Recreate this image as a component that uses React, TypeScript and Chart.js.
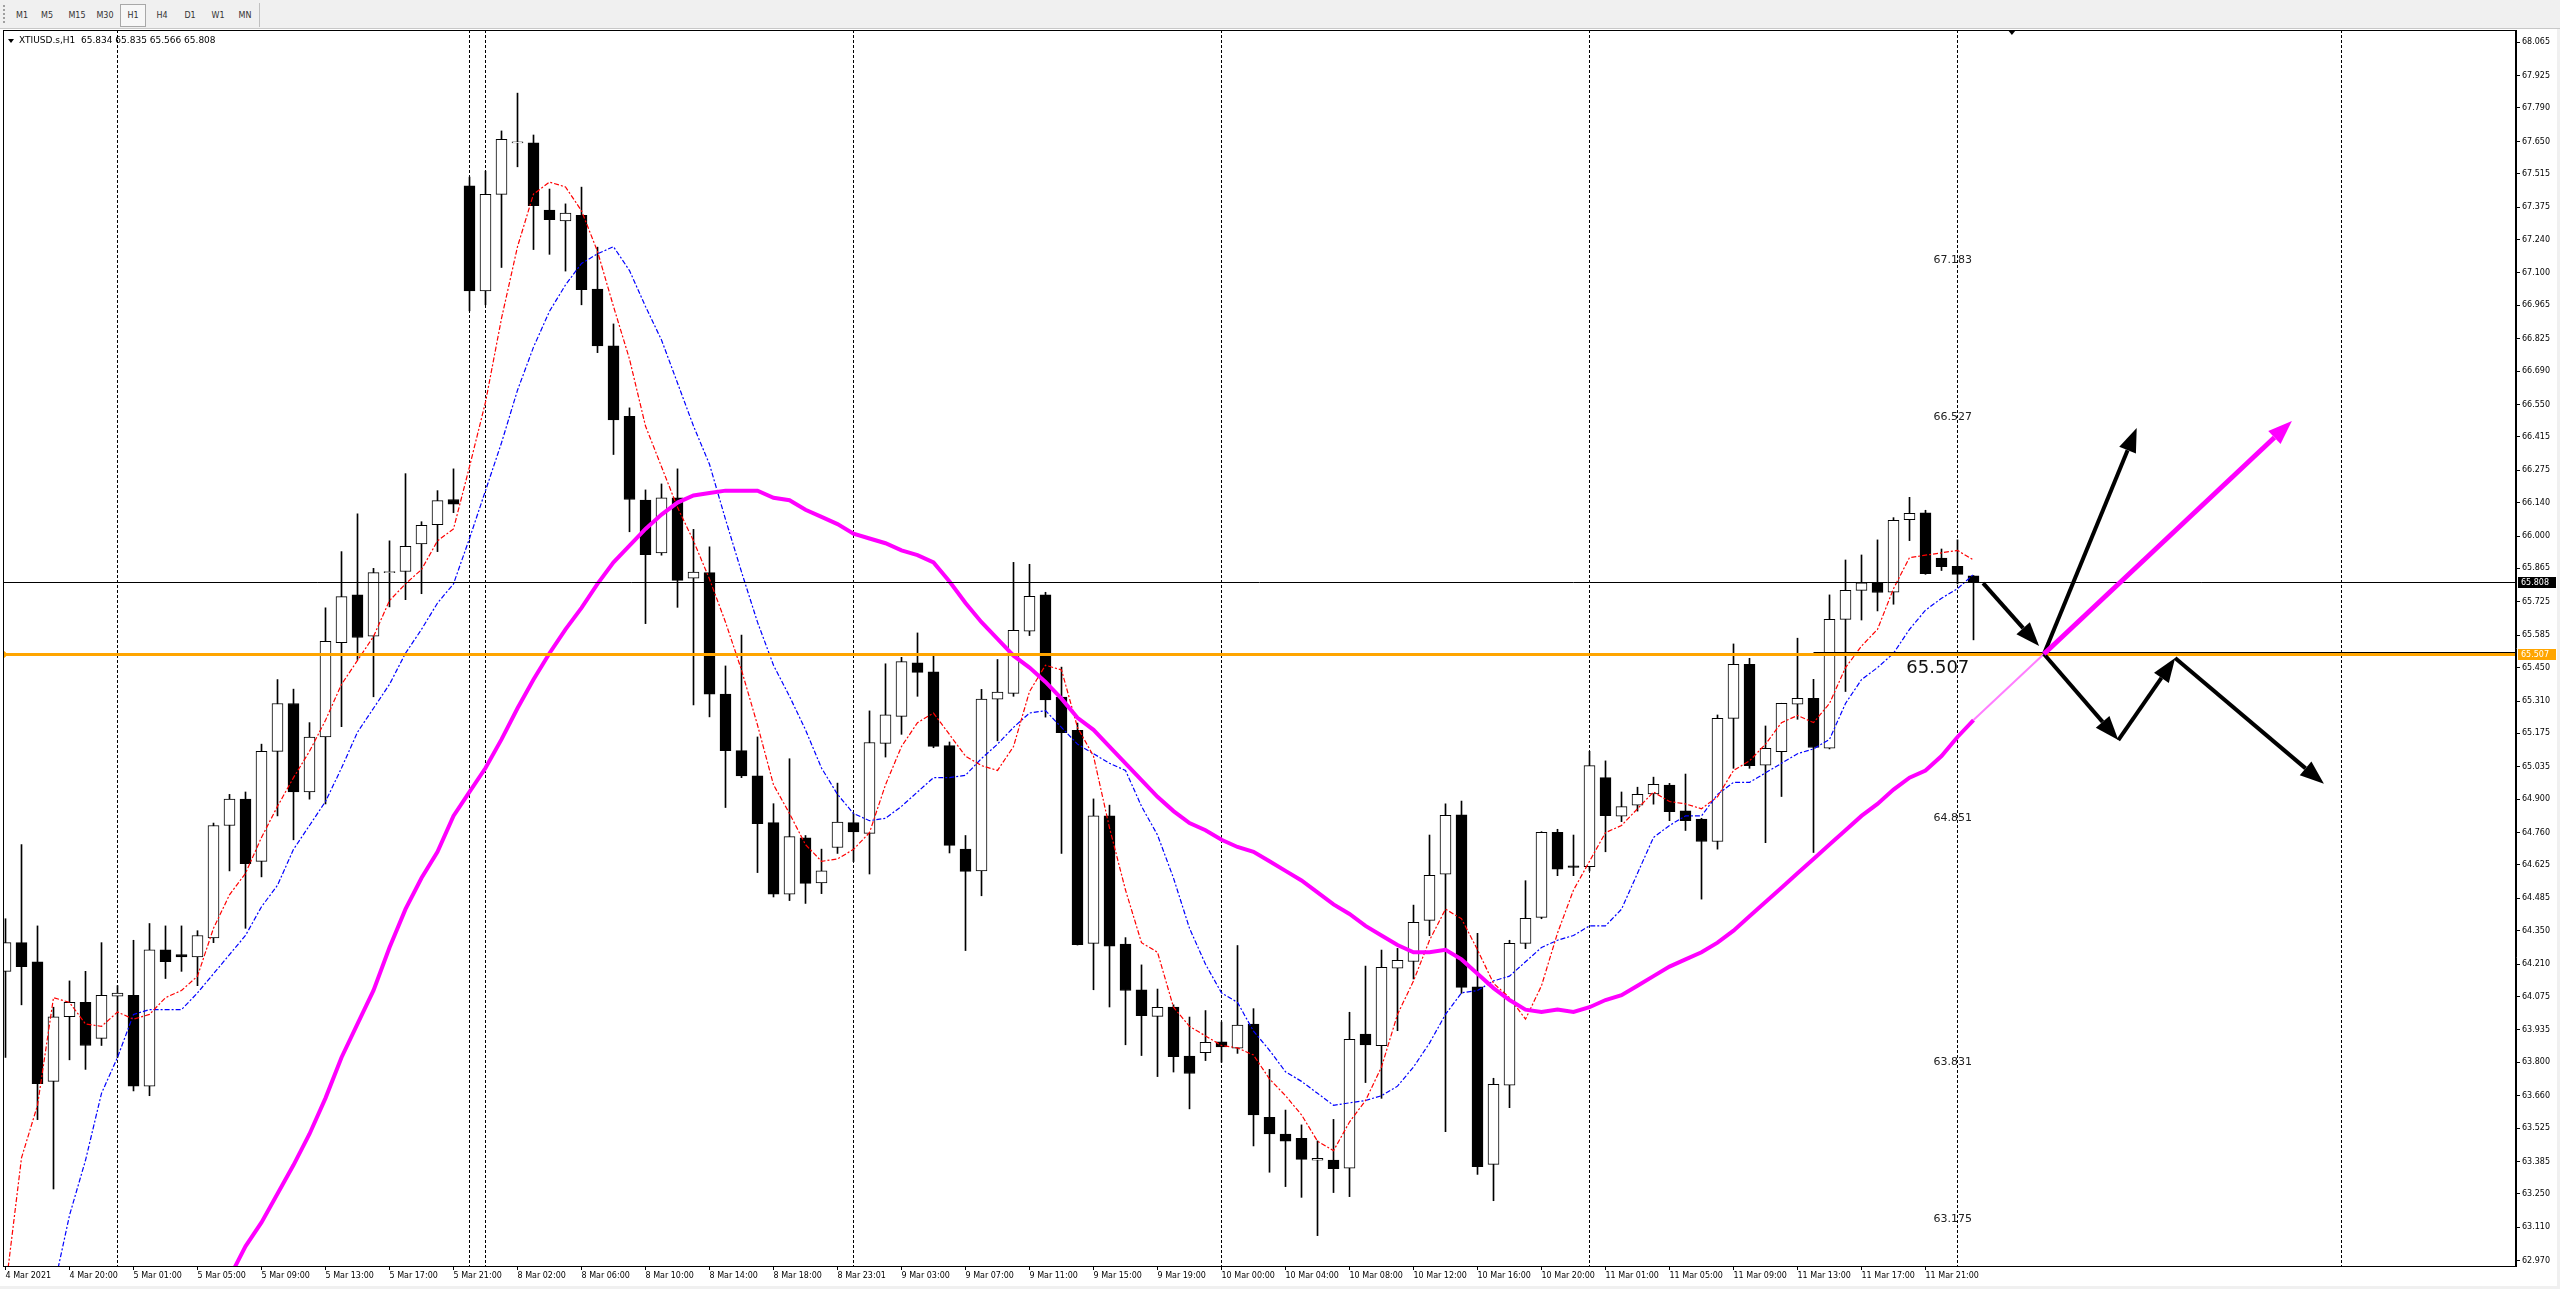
import React, { useEffect, useRef } from "react";
import { Chart, registerables } from "chart.js";

Chart.register(...registerables);

// ---- Candles (hourly, XTIUSD.s H1) ----
const opens = [
  64.18, 64.30, 64.22, 63.72, 63.99, 64.05, 63.90, 64.076, 64.08, 63.70,
  64.27, 64.25, 64.24, 64.32, 64.79, 64.90, 64.64, 65.10, 65.30, 64.93,
  65.16, 65.554, 65.754, 65.581, 65.847, 65.852, 65.967, 66.048, 66.153, 67.464,
  67.025, 67.429, 67.644, 67.644, 67.363, 67.318, 67.341, 67.033, 66.795, 66.501,
  66.150, 65.930, 66.160, 65.824, 65.847, 65.339, 65.103, 64.997, 64.802, 64.503,
  64.738, 64.550, 64.698, 64.802, 64.757, 65.133, 65.246, 65.470, 65.432, 65.124,
  64.691, 64.600, 65.318, 65.342, 65.602, 65.754, 65.327, 65.188, 64.297, 64.830,
  64.294, 64.103, 63.992, 64.031, 63.826, 63.840, 63.885, 63.859, 63.960, 63.57,
  63.50, 63.482, 63.390, 63.391, 63.357, 63.918, 63.869, 64.193, 64.221, 64.393,
  64.586, 64.834, 64.115, 63.373, 63.704, 64.297, 64.406, 64.761, 64.621, 64.618,
  64.99, 64.829, 64.875, 64.922, 64.959, 64.851, 64.817, 64.723, 65.238, 65.464,
  65.042, 65.099, 65.297, 65.322, 65.113, 65.652, 65.773, 65.805, 65.765, 66.069,
  66.097, 65.908, 65.874, 65.834,
];
const highs = [
  64.40, 64.71, 64.37, 64.03, 64.14, 64.18, 64.30, 64.12, 64.31, 64.38,
  64.37, 64.37, 64.35, 64.80, 64.92, 64.93, 65.13, 65.40, 65.36, 65.22,
  65.70, 65.935, 66.093, 65.865, 65.980, 66.261, 66.060, 66.190, 66.281, 67.501,
  67.526, 67.694, 67.852, 67.677, 67.451, 67.389, 67.459, 67.208, 66.887, 66.536,
  66.193, 66.218, 66.281, 66.028, 65.955, 65.457, 65.586, 65.160, 64.881, 65.069,
  64.748, 64.691, 64.967, 64.84, 65.269, 65.466, 65.493, 65.595, 65.502, 65.139,
  64.748, 65.359, 65.484, 65.890, 65.882, 65.765, 65.452, 65.218, 64.901, 64.875,
  64.321, 64.207, 64.106, 64.04, 63.989, 64.016, 63.968, 64.288, 64.024, 63.77,
  63.60, 63.538, 63.471, 63.561, 64.009, 64.202, 64.269, 64.276, 64.457, 64.750,
  64.880, 64.892, 64.339, 63.733, 64.31, 64.559, 64.764, 64.774, 64.750, 65.10,
  65.06, 64.93, 64.95, 64.992, 64.966, 65.005, 64.820, 65.252, 65.549, 65.489,
  65.206, 65.301, 65.573, 65.401, 65.754, 65.900, 65.921, 65.984, 66.077, 66.162,
  66.108, 65.946, 65.984, 65.835,
];
const lows = [
  63.82, 64.04, 63.56, 63.27, 63.81, 63.77, 63.87, 63.82, 63.68, 63.66,
  64.15, 64.18, 64.12, 64.30, 64.60, 64.36, 64.575, 64.83, 64.73, 64.90,
  64.88, 65.203, 65.484, 65.328, 65.704, 65.734, 65.759, 65.935, 66.098, 66.942,
  66.967, 67.123, 67.544, 67.198, 67.178, 67.108, 66.967, 66.767, 66.341, 66.018,
  65.634, 65.920, 65.702, 65.294, 65.244, 64.865, 64.990, 64.593, 64.491, 64.476,
  64.464, 64.505, 64.673, 64.639, 64.587, 65.076, 65.171, 65.330, 65.115, 64.675,
  64.267, 64.496, 65.144, 65.330, 65.584, 65.243, 64.673, 64.290, 64.103, 64.031,
  63.873, 63.828, 63.740, 63.759, 63.605, 63.807, 63.80, 63.837, 63.45, 63.34,
  63.28, 63.235, 63.075, 63.255, 63.238, 63.715, 63.649, 63.932, 64.148, 64.329,
  63.510, 64.088, 63.331, 63.221, 63.610, 64.275, 64.40, 64.580, 64.580, 64.60,
  64.680, 64.806, 64.850, 64.879, 64.810, 64.769, 64.482, 64.691, 65.029, 65.029,
  64.718, 64.911, 65.234, 64.677, 65.11, 65.350, 65.649, 65.687, 65.715, 65.981,
  65.840, 65.856, 65.80, 65.566,
];
const closes = [
  64.30, 64.20, 63.71, 63.99, 64.05, 63.87, 64.08, 64.089, 63.70, 64.27,
  64.22, 64.24, 64.33, 64.79, 64.90, 64.63, 65.10, 65.30, 64.93, 65.16,
  65.56, 65.747, 65.576, 65.847, 65.850, 65.957, 66.045, 66.148, 66.133, 67.025,
  67.429, 67.659, 67.648, 67.381, 67.323, 67.351, 67.030, 66.795, 66.486, 66.153,
  65.922, 66.160, 65.815, 65.849, 65.339, 65.103, 64.997, 64.797, 64.503, 64.743,
  64.548, 64.600, 64.804, 64.763, 65.137, 65.253, 65.475, 65.430, 65.121, 64.707,
  64.598, 65.318, 65.348, 65.606, 65.748, 65.315, 65.178, 64.292, 64.830, 64.285,
  64.100, 63.995, 64.030, 63.823, 63.753, 63.883, 63.864, 63.955, 63.58, 63.50,
  63.47, 63.394, 63.398, 63.355, 63.896, 63.872, 64.197, 64.226, 64.385, 64.581,
  64.832, 64.113, 63.363, 63.708, 64.297, 64.402, 64.761, 64.607, 64.615, 65.04,
  64.831, 64.869, 64.920, 64.962, 64.848, 64.810, 64.723, 65.238, 65.464, 65.040,
  65.113, 65.301, 65.322, 65.116, 65.652, 65.773, 65.805, 65.764, 66.066, 66.095,
  65.843, 65.872, 65.840, 65.808,
];

// ---- Moving averages (one value per bar) ----
const maFast = [
  62.85, 63.40, 63.62, 64.07, 64.05, 63.96, 63.95, 64.01, 63.98, 64.00,
  64.07, 64.10, 64.16, 64.36, 64.50, 64.59, 64.74, 64.87, 64.99, 65.10,
  65.23, 65.38, 65.48, 65.58, 65.73, 65.80, 65.86, 65.98, 66.03, 66.29,
  66.56, 66.91, 67.21, 67.43, 67.48, 67.46, 67.36, 67.19, 66.96, 66.74,
  66.46, 66.29, 66.12, 65.98, 65.82, 65.64, 65.44, 65.21, 64.96, 64.84,
  64.71, 64.64, 64.65, 64.69, 64.76, 64.96, 65.12, 65.22, 65.26, 65.17,
  65.08, 65.04, 65.02, 65.12, 65.35, 65.46, 65.44, 65.20, 65.08, 64.78,
  64.52, 64.30, 64.26, 64.03, 63.95, 63.91, 63.87, 63.86, 63.83, 63.73,
  63.66, 63.58, 63.47, 63.43, 63.55, 63.64, 63.78, 64.00, 64.14, 64.31,
  64.44, 64.40, 64.27, 64.13, 64.07, 63.98, 64.12, 64.34, 64.52, 64.64,
  64.76, 64.79, 64.86, 64.93, 64.89, 64.88, 64.86, 64.91, 65.02, 65.06,
  65.13, 65.22, 65.25, 65.22, 65.30, 65.45, 65.54, 65.61, 65.78, 65.91,
  65.92, 65.93, 65.94, 65.90,
];
const maMid = [
  null, null, null, 62.85, 63.16, 63.39, 63.67, 63.82, 64.00, 64.02,
  64.02, 64.02, 64.09, 64.17, 64.25, 64.33, 64.45, 64.54, 64.69, 64.79,
  64.89, 65.03, 65.18, 65.28, 65.38, 65.51, 65.61, 65.72, 65.80, 65.99,
  66.19, 66.39, 66.61, 66.79, 66.94, 67.05, 67.14, 67.18, 67.21, 67.11,
  66.96, 66.82, 66.64, 66.46, 66.30, 66.07, 65.85, 65.64, 65.46, 65.33,
  65.19, 65.03, 64.92, 64.84, 64.81, 64.82, 64.87, 64.93, 64.99, 64.99,
  65.00, 65.07, 65.13, 65.20, 65.26, 65.27, 65.20, 65.13, 65.09, 65.05,
  65.02, 64.87, 64.75, 64.57, 64.36, 64.21, 64.09, 64.05, 63.93, 63.85,
  63.76, 63.72, 63.67, 63.62, 63.63, 63.64, 63.66, 63.70, 63.78, 63.88,
  64.00, 64.09, 64.10, 64.14, 64.16, 64.22, 64.28, 64.31, 64.33, 64.37,
  64.37, 64.44, 64.59, 64.74, 64.79, 64.83, 64.83, 64.92, 64.97, 64.97,
  65.01, 65.05, 65.09, 65.11, 65.15, 65.30, 65.40, 65.45, 65.51, 65.61,
  65.69, 65.74, 65.78, 65.84,
];
const maSlow = [
  null, null, null, null, null, null, null, null, null, null,
  null, null, null, 62.78, 62.90, 63.03, 63.13, 63.25, 63.37, 63.50,
  63.65, 63.82, 63.96, 64.10, 64.28, 64.44, 64.57, 64.68, 64.83, 64.93,
  65.03, 65.15, 65.28, 65.40, 65.51, 65.61, 65.70, 65.80, 65.89, 65.96,
  66.03, 66.09, 66.14, 66.17, 66.18, 66.19, 66.19, 66.19, 66.16, 66.15,
  66.11, 66.08, 66.05, 66.01, 65.99, 65.97, 65.94, 65.92, 65.89, 65.81,
  65.72, 65.64, 65.57, 65.50, 65.45, 65.39, 65.32, 65.24, 65.19, 65.12,
  65.05, 64.98, 64.91, 64.85, 64.80, 64.77, 64.73, 64.70, 64.68, 64.64,
  64.60, 64.56, 64.51, 64.46, 64.42, 64.37, 64.33, 64.29, 64.26, 64.26,
  64.27, 64.23, 64.17, 64.11, 64.06, 64.02, 64.01, 64.02, 64.01, 64.03,
  64.06, 64.08, 64.12, 64.16, 64.20, 64.23, 64.26, 64.30, 64.35, 64.41,
  64.47, 64.53, 64.59, 64.65, 64.71, 64.77, 64.83, 64.88, 64.94, 64.99,
  65.02, 65.08, 65.16, 65.23,
];

// ---- Axes ----
const xTickBars = [0, 4, 8, 12, 16, 20, 24, 28, 32, 36, 40, 44, 48, 52, 56, 60, 64, 68, 72, 76, 80, 84, 88, 92, 96, 100, 104, 108, 112, 116, 120];
const xTickLabels = [
  "4 Mar 2021", "4 Mar 20:00", "5 Mar 01:00", "5 Mar 05:00", "5 Mar 09:00", "5 Mar 13:00",
  "5 Mar 17:00", "5 Mar 21:00", "8 Mar 02:00", "8 Mar 06:00", "8 Mar 10:00", "8 Mar 14:00",
  "8 Mar 18:00", "8 Mar 23:01", "9 Mar 03:00", "9 Mar 07:00", "9 Mar 11:00", "9 Mar 15:00",
  "9 Mar 19:00", "10 Mar 00:00", "10 Mar 04:00", "10 Mar 08:00", "10 Mar 12:00", "10 Mar 16:00",
  "10 Mar 20:00", "11 Mar 01:00", "11 Mar 05:00", "11 Mar 09:00", "11 Mar 13:00", "11 Mar 17:00",
  "11 Mar 21:00",
];
const yTickValues = [
  62.97, 63.11, 63.25, 63.385, 63.525, 63.66, 63.8, 63.935, 64.075, 64.21, 64.35, 64.485,
  64.625, 64.76, 64.9, 65.035, 65.175, 65.31, 65.45, 65.585, 65.725, 65.865, 66.0, 66.14,
  66.275, 66.415, 66.55, 66.69, 66.825, 66.965, 67.1, 67.24, 67.375, 67.515, 67.65, 67.79,
  67.925, 68.065,
];
const X_MIN = -0.15625;
const X_MAX = 156.906;
const Y_MIN = 62.948;
const Y_MAX = 68.116;

// ---- Chart objects ----
const separatorBars = [7, 29, 30, 53, 76, 99, 122, 146];
const bidPrice = 65.808;
const levelPrice = 65.507;
const levelSegmentStartBar = 113.0;
const levelTexts = [67.183, 66.527, 64.851, 63.831, 63.175];
const levelTextBar = 120.5;
const bigTextBar = 118.8;
const shiftMarkerBar = 125.4;
const titleText = "XTIUSD.s,H1  65.834 65.835 65.566 65.808";
const connector = { from: [123, 65.231], to: [127.4, 65.507] };
const magentaArrow = { from: [127.4, 65.507], to: [142.9, 66.481] };
const blackArrows = [
  { from: [123.6, 65.803], to: [127.1, 65.54] },
  { from: [127.4, 65.507], to: [133.2, 66.452] },
  { from: [127.4, 65.507], to: [132.05, 65.147] },
  { from: [132.05, 65.147], to: [135.6, 65.49] },
  { from: [135.6, 65.49], to: [144.9, 64.964] },
];
const timeframes = ["M1", "M5", "M15", "M30", "H1", "H4", "D1", "W1", "MN"];
const timeframeX = [22, 47, 77, 105, 133, 162, 190, 218, 245];

const FONT = "'DejaVu Sans', sans-serif";

function toPts(arr: (number | null)[]) {
  const out: { x: number; y: number }[] = [];
  arr.forEach((v, i) => {
    if (v !== null) out.push({ x: i, y: v });
  });
  return out;
}

function drawArrow(ctx: CanvasRenderingContext2D, x1: number, y1: number, x2: number, y2: number, color: string, width: number, headLen: number, headW: number) {
  const ang = Math.atan2(y2 - y1, x2 - x1);
  const bx = x2 - headLen * Math.cos(ang);
  const by = y2 - headLen * Math.sin(ang);
  ctx.strokeStyle = color;
  ctx.lineWidth = width;
  ctx.lineCap = "butt";
  ctx.beginPath();
  ctx.moveTo(x1, y1);
  ctx.lineTo(bx, by);
  ctx.stroke();
  ctx.fillStyle = color;
  ctx.beginPath();
  ctx.moveTo(x2, y2);
  ctx.lineTo(bx + headW * Math.sin(ang), by - headW * Math.cos(ang));
  ctx.lineTo(bx - headW * Math.sin(ang), by + headW * Math.cos(ang));
  ctx.closePath();
  ctx.fill();
}

const overlayPlugin = {
  id: "mt4overlay",
  beforeDatasetsDraw(chart: any) {
    const { ctx, chartArea: a, scales } = chart;
    const x = scales.x;
    ctx.save();
    ctx.strokeStyle = "#000";
    ctx.lineWidth = 1;
    ctx.setLineDash([3, 2]);
    separatorBars.forEach((b) => {
      const px = Math.round(x.getPixelForValue(b) - 0.5) + 0.5;
      ctx.beginPath();
      ctx.moveTo(px, a.top);
      ctx.lineTo(px, a.bottom);
      ctx.stroke();
    });
    ctx.restore();
  },
  afterDatasetsDraw(chart: any) {
    const { ctx, chartArea: a, scales } = chart;
    const x = scales.x;
    const y = scales.y;
    const P = (p: number[]) => [x.getPixelForValue(p[0]), y.getPixelForValue(p[1])];
    ctx.save();
    ctx.beginPath();
    ctx.rect(a.left, a.top, a.right - a.left, a.bottom - a.top);
    ctx.clip();

    // orange horizontal level
    const ly = Math.round(y.getPixelForValue(levelPrice));
    ctx.fillStyle = "#ffa500";
    ctx.fillRect(a.left, ly - 1, a.right - a.left, 3);
    ctx.beginPath();
    ctx.moveTo(a.left, ly - 4);
    ctx.lineTo(a.left + 5, ly + 0.5);
    ctx.lineTo(a.left, ly + 5);
    ctx.closePath();
    ctx.fill();
    // black segment over it
    ctx.fillStyle = "#000";
    const sx = x.getPixelForValue(levelSegmentStartBar);
    ctx.fillRect(sx, ly - 2, a.right - sx, 1);

    // bid line
    const by = Math.round(y.getPixelForValue(bidPrice)) + 0.5;
    ctx.strokeStyle = "#000";
    ctx.lineWidth = 1;
    ctx.beginPath();
    ctx.moveTo(a.left, by);
    ctx.lineTo(a.right, by);
    ctx.stroke();

    // level texts
    ctx.fillStyle = "#222";
    ctx.font = `11px ${FONT}`;
    ctx.textAlign = "left";
    ctx.textBaseline = "top";
    const tx = x.getPixelForValue(levelTextBar);
    levelTexts.forEach((v) => {
      ctx.fillText(v.toFixed(3), tx, y.getPixelForValue(v) + 2);
    });
    ctx.fillStyle = "#111";
    ctx.font = `18px ${FONT}`;
    ctx.fillText(levelPrice.toFixed(3), x.getPixelForValue(bigTextBar), y.getPixelForValue(levelPrice) + 5);

    // light magenta connector and arrows
    const c1 = P(connector.from);
    const c2 = P(connector.to);
    ctx.strokeStyle = "#ff7dff";
    ctx.lineWidth = 2;
    ctx.beginPath();
    ctx.moveTo(c1[0], c1[1]);
    ctx.lineTo(c2[0], c2[1]);
    ctx.stroke();
    blackArrows.forEach((ar) => {
      const f = P(ar.from);
      const t = P(ar.to);
      drawArrow(ctx, f[0], f[1], t[0], t[1], "#000", 4, 24, 9);
    });
    {
      const f = P(magentaArrow.from);
      const t = P(magentaArrow.to);
      drawArrow(ctx, f[0], f[1], t[0], t[1], "#ff00ff", 5, 24, 9);
    }

    // shift marker
    const mx = x.getPixelForValue(shiftMarkerBar);
    ctx.fillStyle = "#000";
    ctx.beginPath();
    ctx.moveTo(mx - 4, a.top);
    ctx.lineTo(mx + 4, a.top);
    ctx.lineTo(mx, a.top + 5);
    ctx.closePath();
    ctx.fill();
    ctx.restore();

    // frame
    ctx.save();
    ctx.strokeStyle = "#000";
    ctx.lineWidth = 1;
    ctx.strokeRect(a.left + 0.5, a.top + 0.5, a.right - a.left - 1, a.bottom - a.top);
    // title
    ctx.fillStyle = "#000";
    ctx.beginPath();
    ctx.moveTo(a.left + 5, a.top + 9);
    ctx.lineTo(a.left + 11, a.top + 9);
    ctx.lineTo(a.left + 8, a.top + 13);
    ctx.closePath();
    ctx.fill();
    ctx.font = `9px ${FONT}`;
    ctx.textAlign = "left";
    ctx.textBaseline = "middle";
    ctx.fillText(titleText, a.left + 16, a.top + 11);
    ctx.restore();
  },
  afterDraw(chart: any) {
    const { ctx, chartArea: a, scales } = chart;
    const y = scales.y;
    ctx.save();
    const tags: [number, string][] = [
      [bidPrice, "#000"],
      [levelPrice, "#ffa500"],
    ];
    tags.forEach(([v, col]) => {
      const py = Math.round(y.getPixelForValue(v));
      ctx.fillStyle = col;
      ctx.fillRect(a.right + 2, py - 5, 38, 11);
      ctx.fillStyle = "#fff";
      ctx.font = `8px ${FONT}`;
      ctx.textAlign = "left";
      ctx.textBaseline = "middle";
      ctx.fillText(v.toFixed(3), a.right + 5, py + 0.5);
    });
    ctx.restore();
  },
};

export default function App() {
  const ref = useRef<HTMLCanvasElement>(null);
  useEffect(() => {
    const canvas = ref.current;
    if (!canvas) return;
    Chart.defaults.font.family = FONT;
    const idx = opens.map((_, i) => i);
    const xLabelMap = new Map<number, string>();
    xTickBars.forEach((b, i) => xLabelMap.set(b, xTickLabels[i]));
    const chart = new Chart(canvas, {
      type: "bar",
      data: {
        datasets: [
          {
            type: "line",
            label: "MA slow",
            data: toPts(maSlow),
            borderColor: "#ff00ff",
            borderWidth: 4,
            pointRadius: 0,
            tension: 0,
            order: 1,
          } as any,
          {
            type: "line",
            label: "MA fast",
            data: toPts(maFast),
            borderColor: "#ff0000",
            borderWidth: 1.2,
            borderDash: [5, 2, 2, 2],
            pointRadius: 0,
            tension: 0,
            order: 2,
          } as any,
          {
            type: "line",
            label: "MA mid",
            data: toPts(maMid),
            borderColor: "#0000ff",
            borderWidth: 1.2,
            borderDash: [5, 2, 2, 2],
            pointRadius: 0,
            tension: 0,
            order: 3,
          } as any,
          {
            type: "bar",
            label: "body",
            data: idx.map((i) => ({ x: i, y: [opens[i], closes[i]] })),
            backgroundColor: idx.map((i) => (closes[i] >= opens[i] ? "#ffffff" : "#000000")),
            borderColor: "#000",
            borderWidth: 1,
            borderSkipped: false,
            barThickness: 11,
            grouped: false,
            minBarLength: 1,
            order: 5,
          } as any,
          {
            type: "bar",
            label: "wick",
            data: idx.map((i) => ({ x: i, y: [lows[i], highs[i]] })),
            backgroundColor: "#000",
            borderWidth: 0,
            barThickness: 1,
            grouped: false,
            order: 6,
          } as any,
        ],
      },
      options: {
        responsive: true,
        maintainAspectRatio: false,
        animation: false,
        devicePixelRatio: 1,
        events: [],
        layout: { padding: { left: 3, top: 1, right: 0, bottom: 0 } },
        plugins: {
          legend: { display: false },
          tooltip: { enabled: false },
        },
        scales: {
          x: {
            type: "linear",
            min: X_MIN,
            max: X_MAX,
            offset: false,
            grid: { offset: false, drawOnChartArea: false, drawTicks: true, tickLength: 4, color: "#000" },
            border: { display: true, color: "#000" },
            ticks: {
              autoSkip: false,
              maxRotation: 0,
              minRotation: 0,
              align: "start",
              padding: 1,
              color: "#000",
              font: { size: 8, family: FONT },
              callback: (v: any) => xLabelMap.get(Number(v)) ?? "",
            },
            afterBuildTicks: (s: any) => {
              s.ticks = xTickBars.map((v) => ({ value: v }));
            },
            afterFit: (s: any) => {
              s.height = 20;
              s.paddingLeft = 0;
              s.paddingRight = 0;
            },
          } as any,
          y: {
            type: "linear",
            position: "right",
            min: Y_MIN,
            max: Y_MAX,
            beginAtZero: false,
            grid: { drawOnChartArea: false, drawTicks: true, tickLength: 4, color: "#000" },
            border: { display: true, color: "#000" },
            ticks: {
              padding: 2,
              color: "#000",
              font: { size: 8, family: FONT },
              callback: (v: any) => Number(v).toFixed(3),
            },
            afterBuildTicks: (s: any) => {
              s.ticks = yTickValues.map((v) => ({ value: v }));
            },
            afterFit: (s: any) => {
              s.width = 2557 - 2516;
              s.paddingTop = 0;
              s.paddingBottom = 0;
            },
          } as any,
        },
      },
      plugins: [overlayPlugin],
    });
    return () => chart.destroy();
  }, []);

  return (
    <div style={{ position: "fixed", left: 0, top: 0, width: 2560, height: 1289, background: "#f0f0f0", overflow: "hidden", fontFamily: FONT }}>
      <div style={{ position: "absolute", left: 0, top: 0, width: 2560, height: 28, background: "#f0f0f0", borderBottom: "1px solid #c8c8c8" }}>
        <div style={{ position: "absolute", left: 3, top: 5, width: 2, height: 18, borderLeft: "2px dotted #a0a0a0" }} />
        <div style={{ position: "absolute", left: 120, top: 4, width: 24, height: 21, border: "1px solid #a8a8a8", background: "#f7f7f7" }} />
        <div style={{ position: "absolute", left: 259, top: 3, width: 1, height: 24, background: "#c0c0c0" }} />
        {timeframes.map((t, i) => (
          <span
            key={t}
            style={{ position: "absolute", left: timeframeX[i], top: 11, transform: "translateX(-50%)", fontSize: 8, lineHeight: "10px", color: "#333", whiteSpace: "nowrap" }}
          >
            {t}
          </span>
        ))}
      </div>
      <div style={{ position: "absolute", left: 0, top: 29, width: 2557, height: 1257, background: "#fff" }}>
        <canvas ref={ref} />
      </div>
    </div>
  );
}
